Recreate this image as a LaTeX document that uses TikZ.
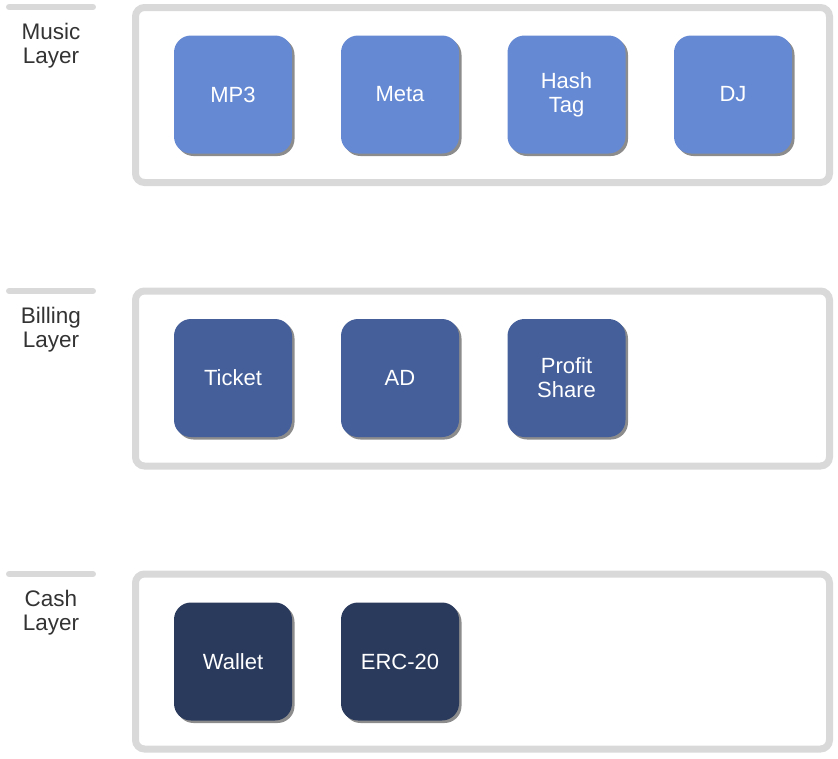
\documentclass[tikz,border=0pt]{standalone}
\usepackage{fontspec}
\setmainfont{Liberation Sans}
\usetikzlibrary{shadows}
\definecolor{framegray}{HTML}{D9D9D9}
\definecolor{musicblue}{HTML}{6589D3}
\definecolor{billblue}{HTML}{445F9A}
\definecolor{cashblue}{HTML}{2A3A5C}
\definecolor{labeltext}{HTML}{333333}
\tikzset{
  tile/.style={rounded corners=17pt, minimum width=118pt, minimum height=118pt, inner sep=0pt,
    text=white, font=\fontsize{22}{24}\selectfont, align=center,
    drop shadow={shadow xshift=2.5pt, shadow yshift=-2.5pt, fill=black, opacity=0.45}},
  musictile/.style={tile, fill=musicblue},
  billtile/.style={tile, fill=billblue},
  cashtile/.style={tile, fill=cashblue},
  frame/.style={draw=framegray, line width=7pt, rounded corners=9pt, minimum width=694pt, minimum height=175pt, inner sep=0pt},
  bar/.style={draw=framegray, line width=6pt, line cap=round},
  layerlabel/.style={text=labeltext, font=\fontsize{22.5}{24}\selectfont, align=center, anchor=north}
}
\begin{document}
\begin{tikzpicture}[x=1pt,y=-1pt]
\useasboundingbox (0,0) rectangle (838,758);
% Music layer
\coordinate (mb1) at (9,7); \coordinate (mb2) at (93,7);
\draw[bar] (mb1) -- (mb2);
\node[layerlabel] (musiclabel) at (51,20) {Music\\Layer};
\node[frame] (musicframe) at (482.5,95) {};
\node[musictile] (mp3) at (233,94.5) {MP3};
\node[musictile] (meta) at (400,94.5) {Meta};
\node[musictile] (hash) at (566.5,94.5) {Hash\\Tag};
\node[musictile] (dj) at (733,94.5) {DJ};
% Billing layer
\coordinate (bb1) at (9,291); \coordinate (bb2) at (93,291);
\draw[bar] (bb1) -- (bb2);
\node[layerlabel] (billlabel) at (51,304) {Billing\\Layer};
\node[frame] (billframe) at (482.5,378.5) {};
\node[billtile] (ticket) at (233,378) {Ticket};
\node[billtile] (ad) at (400,378) {AD};
\node[billtile] (profit) at (566.5,378) {Profit\\Share};
% Cash layer
\coordinate (cb1) at (9,574); \coordinate (cb2) at (93,574);
\draw[bar] (cb1) -- (cb2);
\node[layerlabel] (cashlabel) at (51,587) {Cash\\Layer};
\node[frame] (cashframe) at (482.5,661.5) {};
\node[cashtile] (wallet) at (233,661.5) {Wallet};
\node[cashtile] (erc) at (400,661.5) {ERC-20};
\end{tikzpicture}
\end{document}
